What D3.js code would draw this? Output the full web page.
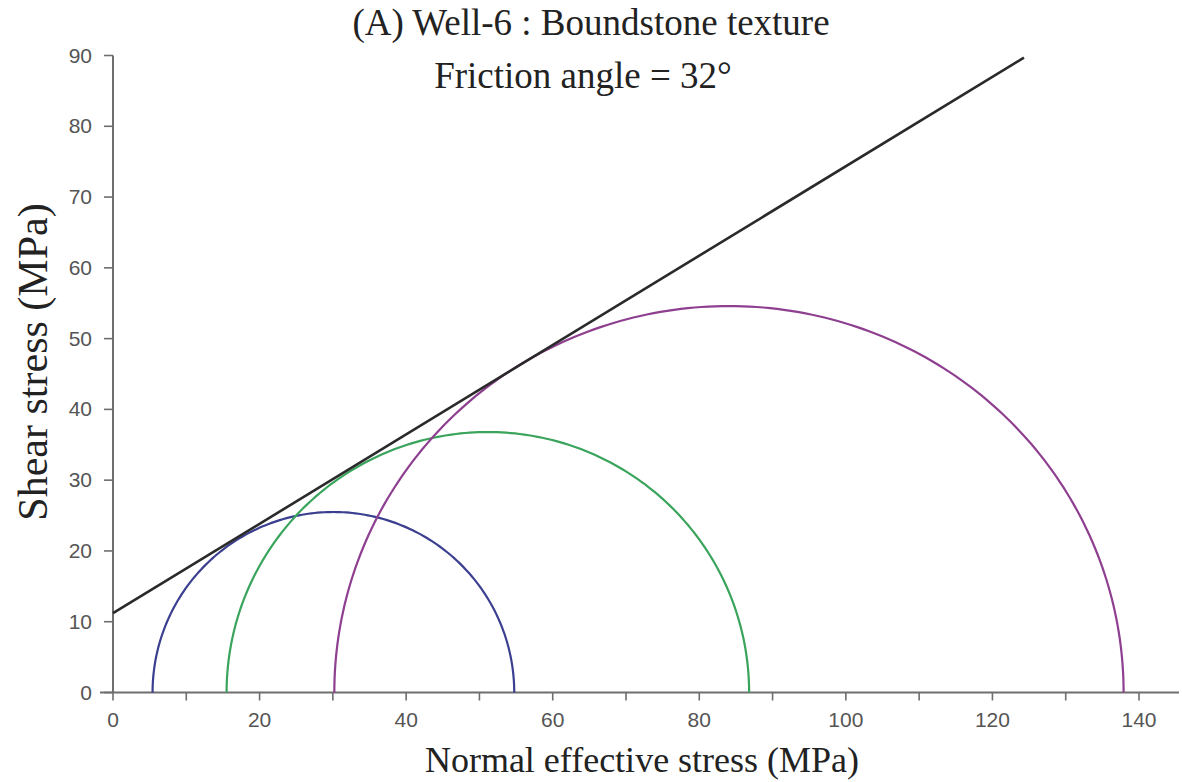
<!DOCTYPE html>
<html><head><meta charset="utf-8">
<script src="https://cdn.jsdelivr.net/npm/d3@7"></script>
<style>html,body{margin:0;padding:0;background:#fff;}svg{display:block;}</style>
</head><body>
<svg id="chart" width="1182" height="782"></svg>
<script>
// ---- data ----
const titleLines = ["(A) Well-6 : Boundstone texture", "Friction angle = 32°"];
const xLabel = "Normal effective stress (MPa)";
const yLabel = "Shear stress (MPa)";
const xTicks = [0,10,20,30,40,50,60,70,80,90,100,110,120,130,140];
const xTickLabels = [0,20,40,60,80,100,120,140];
const yTicks = [0,10,20,30,40,50,60,70,80,90];
const sigma3 = [5.4, 15.5, 30.2];       // left intercepts of circles
const sigma1 = [54.75, 86.8, 137.9];    // right intercepts
const tauPeak = [25.5, 36.8, 54.6];     // read top of each circle
const circleColors = ["#3b3f8f", "#3aa45c", "#8e3f90"];
const envelopeX = [0, 124.3];
const envelopeY = [11.2, 89.7];

// ---- layout ----
const svg = d3.select("#chart");
const x = d3.scaleLinear().domain([0, 140]).range([113, 1139]);
const y = d3.scaleLinear().domain([0, 90]).range([692.5, 55.5]);
const axisColor = "#6e6e6e";

// axes lines
svg.append("line").attr("x1", 100).attr("x2", 1179).attr("y1", y(0)).attr("y2", y(0))
  .attr("stroke", axisColor).attr("stroke-width", 2);
svg.append("line").attr("x1", x(0)).attr("x2", x(0)).attr("y1", y(0)).attr("y2", y(90))
  .attr("stroke", axisColor).attr("stroke-width", 2);

const sans = "Liberation Sans, Arial, sans-serif";
// x ticks
svg.selectAll(".xt").data(xTicks).enter().append("line")
  .attr("x1", d => x(d)).attr("x2", d => x(d)).attr("y1", y(0)).attr("y2", y(0) + 8)
  .attr("stroke", axisColor).attr("stroke-width", 1.6);
svg.selectAll(".xl").data(xTickLabels).enter().append("text")
  .attr("x", d => x(d)).attr("y", 727).attr("text-anchor", "middle")
  .attr("font-family", sans).attr("font-size", 21)
  .attr("fill", "#555").text(d => d);

// y ticks
svg.selectAll(".yt").data(yTicks).enter().append("line")
  .attr("x1", x(0) - 9).attr("x2", x(0)).attr("y1", d => y(d)).attr("y2", d => y(d))
  .attr("stroke", axisColor).attr("stroke-width", 1.6);
svg.selectAll(".yl").data(yTicks).enter().append("text")
  .attr("x", 92).attr("y", d => y(d) + 7).attr("text-anchor", "end")
  .attr("font-family", sans).attr("font-size", 21)
  .attr("fill", "#555").text(d => d);

// Mohr semicircles
const arc = (s3, s1, tp) => {
  const n = 180, c = (s3 + s1) / 2, r = (s1 - s3) / 2;
  const pts = d3.range(n + 1).map(i => {
    const t = Math.PI * i / n;
    return [c - r * Math.cos(t), tp * Math.sin(t)];
  });
  return d3.line().x(p => x(p[0])).y(p => y(p[1]))(pts);
};
sigma3.forEach((s3, i) => {
  svg.append("path").attr("d", arc(s3, sigma1[i], tauPeak[i]))
    .attr("fill", "none").attr("stroke", circleColors[i]).attr("stroke-width", 2.2);
});

// failure envelope
svg.append("path")
  .attr("d", d3.line().x(d => x(d[0])).y(d => y(d[1]))(envelopeX.map((v, i) => [v, envelopeY[i]])))
  .attr("stroke", "#2a2a2a").attr("stroke-width", 2.6).attr("fill", "none");

// titles
const serif = "Liberation Serif, Times New Roman, serif";
svg.append("text").attr("x", 591).attr("y", 35).attr("text-anchor", "middle")
  .attr("font-family", serif).attr("font-size", 37).attr("fill", "#222").text(titleLines[0]);
svg.append("text").attr("x", 583).attr("y", 88).attr("text-anchor", "middle")
  .attr("font-family", serif).attr("font-size", 37).attr("fill", "#222").text(titleLines[1]);

svg.append("text").attr("x", 642).attr("y", 772).attr("text-anchor", "middle")
  .attr("font-family", serif).attr("font-size", 36).attr("fill", "#222").text(xLabel);
svg.append("text").attr("transform", "translate(47,362) rotate(-90)").attr("text-anchor", "middle")
  .attr("font-family", serif).attr("font-size", 42).attr("fill", "#222").text(yLabel);
</script>
</body></html>
